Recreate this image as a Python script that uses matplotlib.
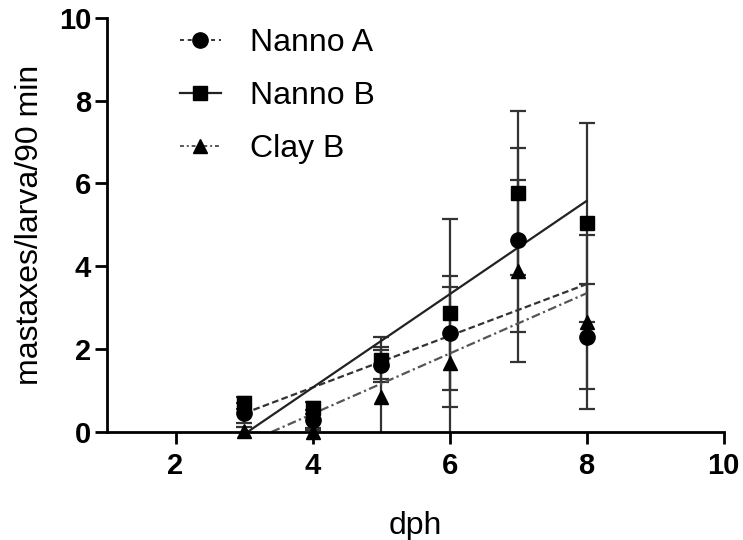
import matplotlib
matplotlib.use("Agg")
import matplotlib.pyplot as plt
from matplotlib.lines import Line2D

plt.rcParams['font.family'] = ['Liberation Sans', 'DejaVu Sans']

dph = [3, 4, 5, 6, 7, 8]

nanno_a = [0.46, 0.29, 1.62, 2.39, 4.64, 2.30]
nanno_a_err = [0.25, 0.25, 0.35, 1.37, 2.22, 1.27]

nanno_b = [0.70, 0.58, 1.75, 2.87, 5.77, 5.05]
nanno_b_err = [0.15, 0.15, 0.55, 2.27, 1.97, 2.40]

clay_b = [0.02, 0.00, 0.85, 1.66, 3.89, 2.66]
clay_b_err = [0.10, 0.10, 1.20, 1.84, 2.20, 2.10]

# regression lines (start, end)
fit_a_x = [3.0, 8.0]
fit_a_y = [0.45, 3.57]
fit_b_x = [3.05, 8.0]
fit_b_y = [0.0, 5.58]
fit_c_x = [3.4, 8.0]
fit_c_y = [0.0, 3.35]

labels = ["Nanno A", "Nanno B", "Clay B"]

fig = plt.figure(figsize=(7.43, 5.40), dpi=100)
ax = fig.add_axes([0.144, 0.2, 0.830, 0.767])

ebkw = dict(fmt="none", ecolor="#333333", elinewidth=1.6, capsize=6, capthick=1.6)
ax.errorbar(dph, nanno_b, yerr=nanno_b_err, **ebkw)
ax.errorbar(dph, nanno_a, yerr=nanno_a_err, **ebkw)
ax.errorbar(dph, clay_b, yerr=clay_b_err, **ebkw)

ax.plot(fit_a_x, fit_a_y, color="#333333", lw=1.6, linestyle=(0, (3, 1.5)))
ax.plot(fit_b_x, fit_b_y, color="#222222", lw=1.6, linestyle="-")
ax.plot(fit_c_x, fit_c_y, color="#555555", lw=1.6, linestyle=(0, (4, 1.5, 1, 1.5)))

ax.plot(dph, nanno_b, "s", color="black", markersize=9.5, linestyle="none", clip_on=False, zorder=4)
ax.plot(dph, nanno_a, "o", color="black", markersize=11, linestyle="none", clip_on=False, zorder=4)
ax.plot(dph, clay_b, "^", color="black", markersize=10, linestyle="none", clip_on=False, zorder=4)

ax.set_xlim(1, 10)
ax.set_ylim(0, 10)
ax.set_xticks([2, 4, 6, 8, 10])
ax.set_yticks([0, 2, 4, 6, 8, 10])

for s in ["top", "right"]:
    ax.spines[s].set_visible(False)
for s in ["left", "bottom"]:
    ax.spines[s].set_linewidth(2)
ax.tick_params(direction="out", length=8.5, width=2, labelsize=21)
ax.tick_params(axis="y", pad=3)
ax.tick_params(axis="x", pad=6)
for lab in ax.get_xticklabels() + ax.get_yticklabels():
    lab.set_fontweight("bold")

ax.set_xlabel("dph", fontsize=23, labelpad=22)
ax.set_ylabel("mastaxes/larva/90 min", fontsize=23, labelpad=10)

handles = [
    Line2D([], [], color="#333333", lw=1.4, linestyle=(0, (2, 2)), marker="o", markersize=11, markerfacecolor="black", markeredgecolor="black"),
    Line2D([], [], color="#222222", lw=1.6, linestyle="-", marker="s", markersize=9.5, markerfacecolor="black", markeredgecolor="black"),
    Line2D([], [], color="#555555", lw=1.4, linestyle=(0, (2, 1.5, 1, 1.5)), marker="^", markersize=10, markerfacecolor="black", markeredgecolor="black"),
]
ax.legend(handles, labels, loc="upper left", bbox_to_anchor=(0.071, 1.045), frameon=False,
          fontsize=23, labelspacing=0.72, handlelength=1.3, handletextpad=0.9)

fig.savefig("out.png", dpi=100)
